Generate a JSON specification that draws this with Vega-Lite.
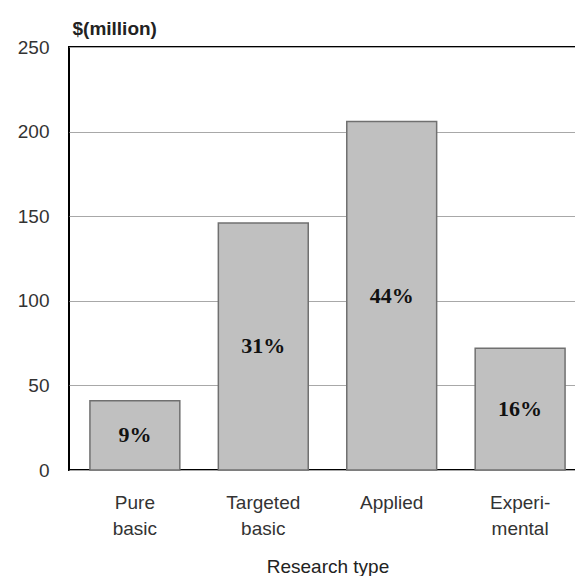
{
  "$schema": "https://vega.github.io/schema/vega-lite/v6.json",
  "autosize": {"type": "none"},
  "padding": {"left": 69, "top": 47, "right": 0, "bottom": 106},
  "width": 517,
  "height": 423,
  "background": "white",
  "config": {
    "view": {"stroke": "black", "strokeWidth": 2},
    "font": "Liberation Sans"
  },
  "data": {
    "values": [
      {"type": "Pure basic", "value": 41, "pct": "9%"},
      {"type": "Targeted basic", "value": 146, "pct": "31%"},
      {"type": "Applied", "value": 206, "pct": "44%"},
      {"type": "Experimental", "value": 72, "pct": "16%"}
    ]
  },
  "encoding": {
    "x": {
      "field": "type",
      "type": "nominal",
      "sort": null,
      "scale": {"paddingInner": 0.3, "paddingOuter": 0.163},
      "axis": {
        "title": "Research type",
        "titleFontSize": 19,
        "titleFontWeight": "normal",
        "titleColor": "#222",
        "titleY": 96,
        "titleBaseline": "middle",
        "labelAngle": 0,
        "labelFontSize": 19,
        "labelColor": "#333",
        "labelPadding": 23,
        "labelLineHeight": 26,
        "labelBaseline": "top",
        "labelExpr": "datum.label == 'Experimental' ? ['Experi-','mental'] : split(datum.label, ' ')",
        "ticks": false,
        "domain": false,
        "grid": false
      }
    }
  },
  "layer": [
    {
      "mark": {"type": "bar", "color": "#c0c0c0", "stroke": "#707070", "strokeWidth": 1.5},
      "encoding": {
        "y": {
          "field": "value",
          "type": "quantitative",
          "scale": {"domain": [0, 250], "nice": false},
          "axis": {
            "values": [0, 50, 100, 150, 200, 250],
            "title": "$(million)",
            "titleAngle": 0,
            "titleAlign": "left",
            "titleBaseline": "middle",
            "titleX": 3,
            "titleY": -19,
            "titleFontSize": 19,
            "titleFontWeight": "bold",
            "titleColor": "#222",
            "labelFontSize": 19,
            "labelColor": "#333",
            "labelPadding": 20,
            "ticks": false,
            "domain": false,
            "grid": true,
            "gridColor": "#a8a8a8",
            "gridWidth": 1
          }
        }
      }
    },
    {
      "mark": {"type": "text", "font": "Liberation Serif", "fontWeight": "bold", "fontSize": 22, "color": "#111", "baseline": "middle"},
      "encoding": {
        "y": {"field": "value", "type": "quantitative", "scale": {"domain": [0, 500], "nice": false}, "axis": null},
        "text": {"field": "pct"}
      }
    }
  ],
  "resolve": {"scale": {"y": "independent"}}
}
